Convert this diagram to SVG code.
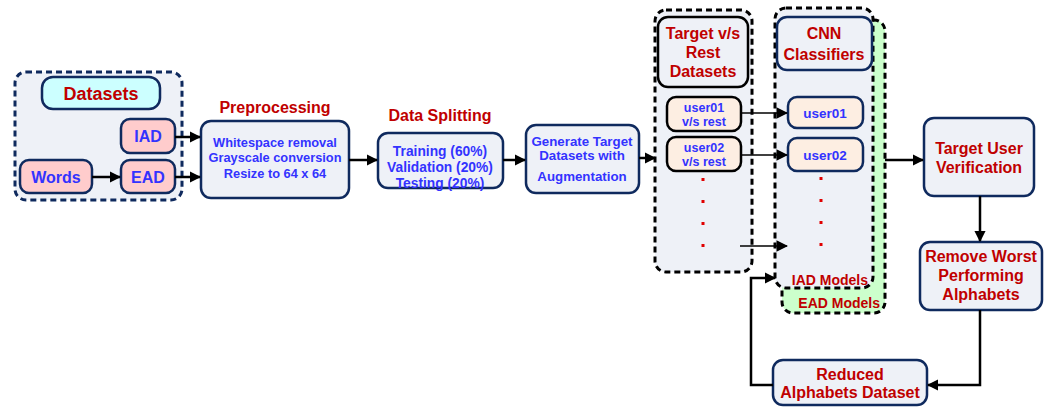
<svg xmlns="http://www.w3.org/2000/svg" width="1049" height="407" viewBox="0 0 1049 407">
<style>
text{font-family:"Liberation Sans",Arial,sans-serif;font-weight:bold;text-anchor:middle}
.red{fill:#c00000}
.blue{fill:#3333ff}
.box{fill:#eef1f7;stroke:#0f2a5e;stroke-width:2.5}
.pink{fill:#ffcccc;stroke:#0f2a5e;stroke-width:2.5}
.peach{fill:#fdeee2;stroke:#0f2a5e;stroke-width:2.5}
.peachk{fill:#fdeee2;stroke:#000;stroke-width:2.5}
.cont{fill:#eef1f7;stroke:#000;stroke-width:3;stroke-dasharray:6,4}
.line{fill:none;stroke:#000;stroke-width:2.5}
.thin{fill:none;stroke:#000;stroke-width:1.3}
.dot{fill:#e00000}
</style>
<defs>
<marker id="ah" viewBox="0 0 10 10" refX="9" refY="5" markerWidth="4.5" markerHeight="4.5" orient="auto" markerUnits="strokeWidth"><path d="M0,0 L10,5 L0,10 z" fill="#000"/></marker>
<marker id="ahs" viewBox="0 0 10 10" refX="9" refY="5" markerWidth="9" markerHeight="9" orient="auto" markerUnits="strokeWidth"><path d="M0,0 L10,5 L0,10 z" fill="#000"/></marker>
</defs>

<g id="datasets-group">
<rect x="15" y="72" width="167" height="128" rx="11" fill="#eef1f7" stroke="#0f2a5e" stroke-width="3" stroke-dasharray="6,4"/>
</g>
<g id="datasets">
<rect x="42" y="77" width="118" height="32" rx="11" fill="#ccffff" stroke="#0f2a5e" stroke-width="2.5"/>
<text x="101" y="99.5" font-size="18" class="red">Datasets</text>
</g>
<g id="iad"><rect class="pink" x="121" y="119" width="54" height="34" rx="9"/><text x="148" y="142" font-size="16" class="blue">IAD</text></g>
<g id="ead"><rect class="pink" x="121" y="160" width="54" height="33" rx="9"/><text x="148" y="182.5" font-size="16" class="blue">EAD</text></g>
<g id="words"><rect class="pink" x="20" y="160" width="72" height="33" rx="9"/><text x="56" y="182.5" font-size="16" class="blue">Words</text></g>

<g id="preprocessing">
<text x="275" y="113" font-size="16" class="red">Preprocessing</text>
<rect class="box" x="201" y="121" width="148" height="77" rx="10"/>
<text x="275" y="146.5" font-size="12.8" class="blue">Whitespace removal</text>
<text x="275" y="162" font-size="12.8" class="blue">Grayscale conversion</text>
<text x="275" y="177.5" font-size="12.8" class="blue">Resize to 64 x 64</text>
</g>

<g id="data-splitting">
<text x="440" y="121" font-size="16" class="red">Data Splitting</text>
<rect class="box" x="378" y="133" width="125" height="55" rx="10"/>
<text x="440" y="155.5" font-size="13.8" class="blue">Training (60%)</text>
<text x="440" y="171.5" font-size="13.8" class="blue">Validation (20%)</text>
<text x="440" y="187.5" font-size="13.8" class="blue">Testing (20%)</text>
</g>

<g id="generate">
<rect class="box" x="526" y="125" width="113" height="68" rx="10"/>
<text x="582" y="145.5" font-size="13.3" class="blue">Generate Target</text>
<text x="582" y="159.5" font-size="13.3" class="blue">Datasets with</text>
<text x="582" y="180.5" font-size="13.3" class="blue">Augmentation</text>
</g>

<g id="target-rest-group">
<rect class="cont" x="655" y="10" width="97" height="262" rx="11"/>
</g>
<g id="target-rest-title">
<rect x="658" y="17" width="90" height="70" rx="10" fill="#eef1f7" stroke="#000" stroke-width="2.5"/>
<text x="703" y="38.5" font-size="16" class="red">Target v/s</text>
<text x="703" y="57.5" font-size="16" class="red">Rest</text>
<text x="703" y="76.5" font-size="16" class="red">Datasets</text>
</g>
<g id="rest-user01"><rect class="peachk" x="667" y="97" width="74" height="34" rx="9"/><text x="704" y="112" font-size="12.5" class="blue">user01</text><text x="704" y="125.5" font-size="12.5" class="blue">v/s rest</text></g>
<g id="rest-user02"><rect class="peachk" x="667" y="137" width="74" height="34" rx="9"/><text x="704" y="152" font-size="12.5" class="blue">user02</text><text x="704" y="165.5" font-size="12.5" class="blue">v/s rest</text></g>
<g id="rest-dots"><rect class="dot" x="701.5" y="178" width="3" height="3"/><rect class="dot" x="701.5" y="200" width="3" height="3"/><rect class="dot" x="701.5" y="222" width="3" height="3"/><rect class="dot" x="701.5" y="244" width="3" height="3"/></g>

<g id="ead-models">
<rect x="782" y="20" width="103" height="293" rx="11" fill="#ccffcc" stroke="#000" stroke-width="3" stroke-dasharray="6,4"/>
<text x="880" y="308" font-size="14" class="red" style="text-anchor:end">EAD Models</text>
</g>
<g id="iad-models">
<rect class="cont" x="775" y="8" width="98" height="280" rx="11"/>
<text x="868" y="285" font-size="14" class="red" style="text-anchor:end">IAD Models</text>
</g>
<g id="cnn-title">
<rect class="box" x="777" y="17" width="95" height="53" rx="10"/>
<text x="824" y="38.5" font-size="16" class="red">CNN</text>
<text x="824" y="59.5" font-size="16" class="red">Classifiers</text>
</g>
<g id="cnn-user01"><rect class="peach" x="788" y="97" width="75" height="31" rx="9"/><text x="825" y="117.5" font-size="13.5" class="blue">user01</text></g>
<g id="cnn-user02"><rect class="peach" x="788" y="138" width="75" height="33" rx="9"/><text x="825" y="159.5" font-size="13.5" class="blue">user02</text></g>
<g id="cnn-dots"><rect class="dot" x="819.5" y="177" width="3" height="3"/><rect class="dot" x="819.5" y="199" width="3" height="3"/><rect class="dot" x="819.5" y="221" width="3" height="3"/><rect class="dot" x="819.5" y="243" width="3" height="3"/></g>

<g id="verification">
<rect class="box" x="924" y="118" width="110" height="78" rx="10"/>
<text x="979" y="153.5" font-size="16" class="red">Target User</text>
<text x="979" y="172.5" font-size="16" class="red">Verification</text>
</g>
<g id="remove">
<rect class="box" x="920" y="242" width="122" height="68" rx="10"/>
<text x="981" y="261.5" font-size="16" class="red">Remove Worst</text>
<text x="981" y="280.5" font-size="16" class="red">Performing</text>
<text x="981" y="299.5" font-size="16" class="red">Alphabets</text>
</g>
<g id="reduced">
<rect class="box" x="773" y="360" width="154" height="45" rx="10"/>
<text x="850" y="379.5" font-size="16" class="red">Reduced</text>
<text x="850" y="397.5" font-size="16" class="red">Alphabets Dataset</text>
</g>

<g id="connectors">
<line class="line" x1="175" y1="137" x2="200" y2="137" marker-end="url(#ah)"/>
<line class="line" x1="175" y1="177" x2="200" y2="177" marker-end="url(#ah)"/>
<line class="line" x1="92" y1="177" x2="120" y2="177" marker-end="url(#ah)"/>
<line class="line" x1="349" y1="160" x2="377" y2="160" marker-end="url(#ah)"/>
<line class="line" x1="503" y1="160" x2="525" y2="160" marker-end="url(#ah)"/>
<line class="line" x1="639" y1="158" x2="655" y2="158" marker-end="url(#ah)"/>
<line class="thin" x1="741" y1="113" x2="787" y2="113" marker-end="url(#ahs)"/>
<line class="thin" x1="741" y1="155" x2="787" y2="155" marker-end="url(#ahs)"/>
<line class="thin" x1="740" y1="246" x2="787" y2="246" marker-end="url(#ahs)"/>
<line class="line" x1="885" y1="160" x2="923" y2="160" marker-end="url(#ah)"/>
<line class="line" x1="980" y1="196" x2="980" y2="241" marker-end="url(#ah)"/>
<polyline class="line" points="980,310 980,385 928,385" marker-end="url(#ah)"/>
<polyline class="line" points="773,385 751,385 751,278 775,278" marker-end="url(#ah)"/>
</g>
</svg>
